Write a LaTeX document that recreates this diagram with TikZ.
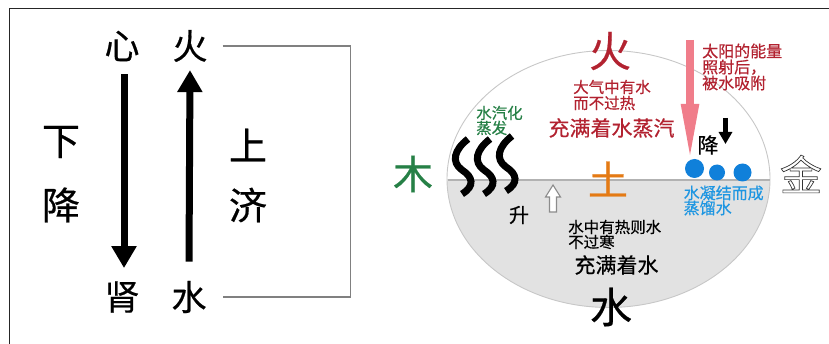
\documentclass[tikz,border=0pt]{standalone}
\usepackage{fontspec}
\newfontfamily\cjk{Noto Sans CJK SC}[FakeBold=0.5]
\newfontfamily\cjkplain{Noto Sans CJK SC}
\usetikzlibrary{arrows.meta,calc}
\definecolor{firered}{RGB}{178,34,48}
\definecolor{woodgreen}{RGB}{38,128,70}
\definecolor{earthorange}{RGB}{228,122,20}
\definecolor{dropblue}{RGB}{16,128,218}
\definecolor{textblue}{RGB}{30,150,225}
\definecolor{sunpink}{RGB}{240,125,138}
\definecolor{waterfill}{RGB}{226,226,226}
\newcommand{\outlinetext}[1]{\special{pdf:literal direct 1 Tr 0.7 w}#1\special{pdf:literal direct 0 Tr}}
\tikzset{
  zh/.style={font=\cjk\fontsize{#1}{#1}\selectfont, inner sep=0pt},
  zhblock/.style 2 args={font=\cjk\fontsize{#1}{#2}\selectfont, inner sep=0pt, align=left, anchor=west},
  flowarrow/.style={line width=7pt, -{Triangle[width=24pt,length=22pt]}},
  bracketline/.style={draw=black!50, line width=1.2pt},
  steam/.style={line width=7pt, line cap=butt},
}
\begin{document}
\begin{tikzpicture}[x=1pt,y=-1pt]
\useasboundingbox (0,0) rectangle (829,344);
% frame
\draw[black!85, line width=1.6pt] (829,8.5) -- (9.5,8.5) -- (9.5,344);

% ---- left: heart and kidney ----
\node[zh=35] (xin)  at (122,46)  {心};
\node[zh=35] (huo)  at (190,46)  {火};
\node[zh=35] (shen) at (122,297) {肾};
\node[zh=35] (shui) at (189,297) {水};
\node[zh=38] (xia)   at (61,142)  {下};
\node[zh=38] (jiang) at (61,205)  {降};
\node[zh=38] (shang) at (248,145) {上};
\node[zh=38] (ji)    at (248,205) {济};

\draw[flowarrow] ([xshift=2pt,yshift=-13pt]xin.south) -- ([xshift=2pt,yshift=13pt]shen.north);
\draw[flowarrow] ([yshift=19pt]shui.north) -- ([yshift=-8pt]huo.south);
\draw[bracketline] ([xshift=15pt]huo.east) -- ++(128,0) |- ([xshift=16pt]shui.east);

% ---- right: the five phases cycle ----
\begin{scope}
  \clip (440,180) rectangle (780,320);
  \fill[waterfill] (608.5,179) ellipse [x radius=161.5, y radius=128.5];
\end{scope}
\draw[black!22, line width=0.9pt] (608.5,179) ellipse [x radius=161.5, y radius=128.5];
\draw[black!30, line width=1.6pt] (447.5,180) -- (769.5,180);

\node[zh=42, text=firered] (fire) at (610,51) {火};
\node[zhblock={15.5}{16}, text=firered] (airtext) at (573,95) {大气中有水\\而不过热};
\node[zh=21, text=firered] (vapour) at (611.5,128) {充满着水蒸汽};

\node[zhblock={15.5}{15}, text=woodgreen] (evap) at (476,120.5) {水汽化\\蒸发};
\node[zh=40, text=woodgreen] (wood) at (413,174) {木};
\node[zh=40, text=earthorange] (earth) at (608,179) {土};

% steam strokes
\foreach \dx/\dy in {0/0, 22/0, 44/-3}{
  \draw[steam, shift={(\dx,\dy)}] (468,139) .. controls (454,150) and (451,162) .. (462,170)
        .. controls (473,177) and (475,186) .. (462,194);
}

% hollow rising arrow
\draw[black!45, line width=1.1pt, fill=white, line join=miter]
  (549.5,212) -- (549.5,197) -- (545.5,197) -- (553,185) -- (560.5,197) -- (556.5,197) -- (556.5,212) -- cycle;
\node[zh=20] (sheng) at (519,215) {升};

\node[zhblock={15.5}{15}] (watertext) at (568,234.5) {水中有热则水\\不过寒};
\node[zh=21] (fullwater) at (616.5,265) {充满着水};
\node[zh=42] (water) at (611,307) {水};

% sunlight
\coordinate (sunstart) at (690,40);
\coordinate (sunend) at (690,162);
\draw[sunpink, line width=8pt, -{Triangle[width=16pt,length=58pt]}] (sunstart) -- (sunend);
\node[zhblock={16}{16}, text=firered] (suntext) at (702,67) {太阳的能量\\照射后，\\被水吸附};

\coordinate (fallstart) at (725.5,118);
\coordinate (fallend) at (725.5,144);
\draw[line width=4.5pt, -{Triangle[width=13pt,length=12pt]}] (fallstart) -- (fallend);
\node[zh=21] (fall) at (708,145) {降};

\fill[dropblue] (694.5,168.5) circle (9.5);
\fill[dropblue] (717,172.5) circle (8);
\fill[dropblue] (742.5,172.5) circle (9);
\node[zhblock={16}{15}, text=textblue] (condense) at (683.5,200.5) {水凝结而成\\蒸馏水};

\node[font=\cjkplain\fontsize{42}{42}\selectfont, inner sep=0pt, text=black!80] (metal) at (801,174) {\outlinetext{金}};
\end{tikzpicture}
\end{document}
